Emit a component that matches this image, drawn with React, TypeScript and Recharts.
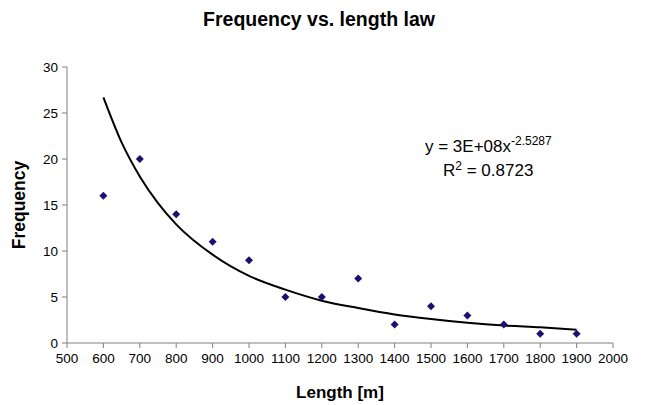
import { ComposedChart, Scatter, Line, XAxis, YAxis } from 'recharts'

// observed counts per length class
const lengths = [600, 700, 800, 900, 1000, 1100, 1200, 1300, 1400, 1500, 1600, 1700, 1800, 1900]
const counts = [16, 20, 14, 11, 9, 5, 5, 7, 2, 4, 3, 2, 1, 1]

// power trend line
const trendX = [600, 650, 700, 750, 800, 900, 1000, 1100, 1200, 1300, 1400, 1500, 1600, 1700, 1800, 1900]
const trendY = [26.7, 21.8, 18.1, 15.2, 12.9, 9.6, 7.3, 5.8, 4.6, 3.8, 3.1, 2.6, 2.2, 1.9, 1.7, 1.45]

const xTicks = [500, 600, 700, 800, 900, 1000, 1100, 1200, 1300, 1400, 1500, 1600, 1700, 1800, 1900, 2000]
const yTicks = [0, 5, 10, 15, 20, 25, 30]

const points = lengths.map((x, i) => ({ x, y: counts[i] }))
const trend = trendX.map((x, i) => ({ x, t: trendY[i] }))

const font = 'Arial, "Liberation Sans", sans-serif'

const Diamond = (props: any) => {
  const { cx, cy } = props
  const r = 4
  return (
    <polygon
      points={`${cx},${cy - r} ${cx + r},${cy} ${cx},${cy + r} ${cx - r},${cy}`}
      fill="#1b1070"
    />
  )
}

export default function App() {
  return (
    <div style={{ position: 'absolute', left: 0, top: 0, width: 658, height: 405, background: '#fff' }}>
      <ComposedChart width={658} height={405} margin={{ top: 67, right: 45, bottom: 0, left: 0 }}>
        <XAxis
          type="number"
          dataKey="x"
          domain={[500, 2000]}
          ticks={xTicks}
          interval={0}
          height={62}
          stroke="#808080"
          tick={{ fill: '#000', fontSize: 13.5, fontFamily: font }}
          tickSize={5}
          tickMargin={5}
        />
        <YAxis
          type="number"
          domain={[0, 30]}
          ticks={yTicks}
          interval={0}
          width={67}
          stroke="#808080"
          tick={{ fill: '#000', fontSize: 13.5, fontFamily: font }}
          tickSize={5}
          tickMargin={4}
        />
        <Line
          data={trend}
          dataKey="t"
          type="monotone"
          stroke="#000"
          strokeWidth={2}
          dot={false}
          activeDot={false}
          isAnimationActive={false}
        />
        <Scatter data={points} dataKey="y" shape={Diamond} isAnimationActive={false} />
      </ComposedChart>
      <svg width={658} height={405} style={{ position: 'absolute', left: 0, top: 0, pointerEvents: 'none' }} fontFamily={font}>
        <text x={319} y={26} textAnchor="middle" fontSize={19.5} fontWeight="bold">
          Frequency vs. length law
        </text>
        <text x={340} y={398} textAnchor="middle" fontSize={17} fontWeight="bold">
          Length [m]
        </text>
        <text transform="translate(25,205) rotate(-90)" textAnchor="middle" fontSize={17.5} fontWeight="bold">
          Frequency
        </text>
        <text x={425} y={152} fontSize={17}>
          y = 3E+08x<tspan fontSize={12} dy={-7}>-2.5287</tspan>
        </text>
        <text x={443} y={176} fontSize={17}>
          R<tspan fontSize={12} dy={-6}>2</tspan><tspan dy={6}> = 0.8723</tspan>
        </text>
      </svg>
    </div>
  )
}
